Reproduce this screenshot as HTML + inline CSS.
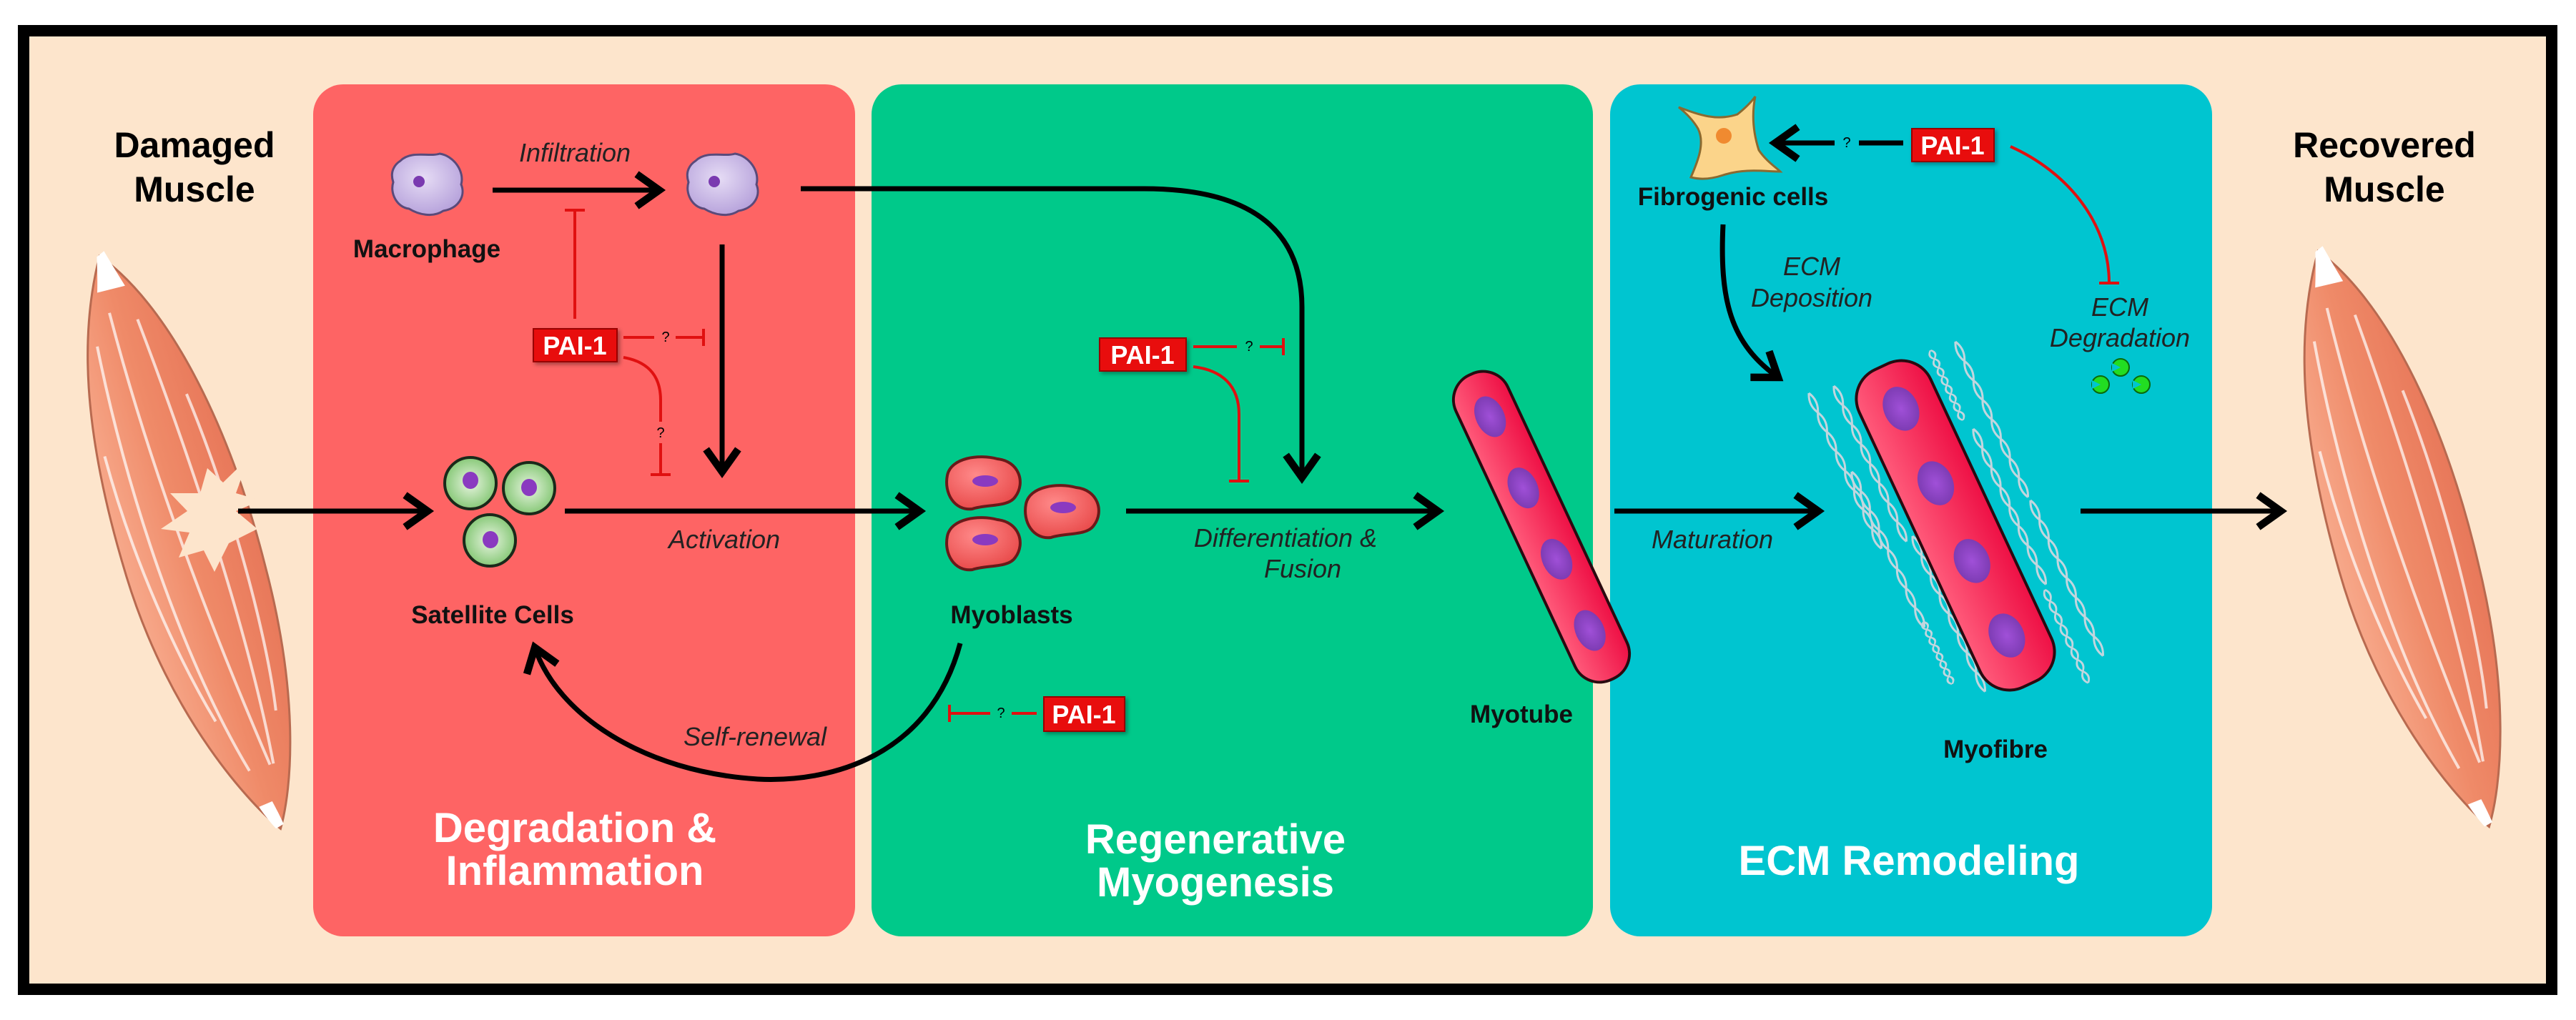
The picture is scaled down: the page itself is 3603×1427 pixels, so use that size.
<!DOCTYPE html>
<html><head><meta charset="utf-8"><style>
html,body{margin:0;padding:0;background:#fff;}
svg{display:block;}
.t{font-family:"Liberation Sans Narrow","Liberation Sans",sans-serif;}
</style></head><body>
<svg width="3603" height="1427" viewBox="0 0 3603 1427" xmlns="http://www.w3.org/2000/svg">
<defs>
<marker id="ah" markerWidth="10" markerHeight="10" refX="7" refY="5" orient="auto" markerUnits="strokeWidth">
<path d="M2.5,1.8 L7,5 L2.5,8.2" fill="none" stroke="#000" stroke-width="1.5" stroke-linejoin="miter"/>
</marker>
<linearGradient id="mus" x1="0" y1="0" x2="1" y2="0">
<stop offset="0" stop-color="#f7a88a"/><stop offset="0.5" stop-color="#ef8a68"/><stop offset="1" stop-color="#e8785a"/>
</linearGradient>
<radialGradient id="mac" cx="0.45" cy="0.4" r="0.6"><stop offset="0" stop-color="#e6dcf5"/><stop offset="1" stop-color="#b8a4dc"/></radialGradient>
<radialGradient id="sat" cx="0.5" cy="0.5" r="0.55"><stop offset="0" stop-color="#e8f5e0"/><stop offset="1" stop-color="#7ec46e"/></radialGradient>
<radialGradient id="myo" cx="0.4" cy="0.35" r="0.7"><stop offset="0" stop-color="#ff8a8a"/><stop offset="1" stop-color="#e84848"/></radialGradient>
<radialGradient id="nuc" cx="0.5" cy="0.5" r="0.55"><stop offset="0" stop-color="#a050d8"/><stop offset="1" stop-color="#7a3ab0"/></radialGradient>
<linearGradient id="tube" x1="0" y1="0" x2="1" y2="0"><stop offset="0" stop-color="#ff5a7a"/><stop offset="1" stop-color="#ee1045"/></linearGradient>
<filter id="sh" x="-20%" y="-20%" width="140%" height="140%"><feDropShadow dx="3" dy="3" stdDeviation="3" flood-opacity="0.35"/></filter>
<g id="muscle">
<path d="M0,-420 C70,-330 105,-150 95,60 C88,250 40,370 8,420 C-20,380 -95,230 -95,20 C-95,-200 -55,-330 0,-420 Z" fill="url(#mus)" stroke="#b86a50" stroke-width="3"/>
<path d="M-40,-300 C-60,-100 -55,150 -10,330 M-10,-340 C-20,-100 0,150 20,330 M25,-320 C40,-100 45,150 25,330 M-75,-150 C-80,0 -60,150 -35,250 M60,-200 C75,-50 70,150 50,260" fill="none" stroke="#fff" stroke-opacity="0.7" stroke-width="4"/>
<path d="M-4,-420 L8,-425 C14,-400 18,-385 22,-370 L-18,-372 C-12,-390 -8,-405 -4,-420Z" fill="#fff"/>
<path d="M2,418 L14,415 C12,400 10,390 8,380 L-12,382 C-8,395 -3,408 2,418Z" fill="#fff"/>
</g>
<g id="col">
<path d="M0,0 q8,15 0,30 q-8,15 0,30 q8,15 0,30 q-8,15 0,30 q8,15 0,30 q-8,15 0,30 q8,15 0,30 q-8,15 0,30 M0,0 q-8,15 0,30 q8,15 0,30 q-8,15 0,30 q8,15 0,30 q-8,15 0,30 q8,15 0,30 q-8,15 0,30 q8,15 0,30" fill="none" stroke="#d8d8e0" stroke-width="3"/>
</g>
</defs>

<rect x="0" y="0" width="3603" height="1427" fill="#fff"/>
<rect x="33" y="43" width="3536" height="1341" fill="#fde5cc" stroke="#000" stroke-width="16"/>

<rect x="438" y="118" width="758" height="1192" rx="42" fill="#fe6464"/>
<rect x="1219" y="118" width="1009" height="1192" rx="42" fill="#00c98a"/>
<rect x="2252" y="118" width="842" height="1192" rx="42" fill="#00c5d0"/>

<g transform="translate(262,760) rotate(-17)"><use href="#muscle"/></g>
<polygon points="348,640 330,690 365,700 330,715 360,740 320,760 300,800 285,770 250,780 265,745 225,740 262,715 238,690 280,690 290,655 312,675" fill="#fde5cc"/>
<g transform="translate(3358,755) rotate(-16)"><use href="#muscle"/></g>

<g class="t" font-weight="bold" font-size="50" text-anchor="middle" fill="#000">
<text x="272" y="220">Damaged</text><text x="272" y="282">Muscle</text>
<text x="3335" y="220">Recovered</text><text x="3335" y="282">Muscle</text>
</g>

<path d="M560,225 C575,210 600,220 615,215 C635,218 650,240 645,258 C652,275 640,292 620,295 C605,305 585,300 572,292 C555,290 545,270 550,255 C545,240 552,230 560,225Z" fill="url(#mac)" stroke="#5a4a7a" stroke-width="3"/>
<circle cx="586" cy="254" r="8" fill="#7a3ab0"/>
<path d="M973,225 C988,210 1013,220 1028,215 C1048,218 1063,240 1058,258 C1065,275 1053,292 1033,295 C1018,305 998,300 985,292 C968,290 958,270 963,255 C958,240 965,230 973,225Z" fill="url(#mac)" stroke="#5a4a7a" stroke-width="3"/>
<circle cx="999" cy="254" r="8" fill="#7a3ab0"/>

<g stroke="#1a2a1a" stroke-width="4">
<ellipse cx="658" cy="676" rx="36" ry="36" fill="url(#sat)"/>
<ellipse cx="740" cy="683" rx="36" ry="36" fill="url(#sat)"/>
<ellipse cx="685" cy="756" rx="36" ry="36" fill="url(#sat)"/>
</g>
<g fill="#8a3ac0"><ellipse cx="658" cy="672" rx="11" ry="12"/><ellipse cx="740" cy="682" rx="11" ry="12"/><ellipse cx="686" cy="755" rx="11" ry="12"/></g>

<g stroke="#6a1a1a" stroke-width="4" fill="url(#myo)">
<path d="M1325,665 C1330,640 1370,635 1395,642 C1425,645 1435,675 1420,695 C1410,710 1380,705 1360,712 C1335,715 1320,690 1325,665Z"/>
<path d="M1435,705 C1440,680 1480,675 1505,682 C1535,685 1545,715 1530,735 C1520,750 1490,745 1470,752 C1445,755 1430,730 1435,705Z"/>
<path d="M1325,750 C1330,725 1370,720 1395,727 C1425,730 1435,760 1420,780 C1410,795 1380,790 1360,797 C1335,800 1320,775 1325,750Z"/>
</g>
<g fill="#8a3ac0"><ellipse cx="1378" cy="673" rx="18" ry="8"/><ellipse cx="1487" cy="710" rx="18" ry="8"/><ellipse cx="1378" cy="755" rx="18" ry="8"/></g>

<g opacity="0.9">
<g transform="translate(2530,550) rotate(-25)"><use href="#col"/></g>
<g transform="translate(2565,540) rotate(-25)"><use href="#col"/></g>
<g transform="translate(2590,660) rotate(-25)"><use href="#col"/></g>
<g transform="translate(2675,750) rotate(-25)"><use href="#col"/></g>
<g transform="translate(2690,870) rotate(-25) scale(1,0.4)"><use href="#col"/></g>
<g transform="translate(2700,490) rotate(-25) scale(1,0.45)"><use href="#col"/></g>
<g transform="translate(2735,478) rotate(-25)"><use href="#col"/></g>
<g transform="translate(2760,600) rotate(-25)"><use href="#col"/></g>
<g transform="translate(2840,700) rotate(-25)"><use href="#col"/></g>
<g transform="translate(2860,825) rotate(-25) scale(1,0.6)"><use href="#col"/></g>
</g>

<g transform="translate(2156,737) rotate(-25)">
<rect x="-40" y="-235" width="80" height="470" rx="38" fill="url(#tube)" stroke="#2a0a10" stroke-width="4"/>
<g fill="url(#nuc)"><ellipse cx="0" cy="-170" rx="20" ry="30"/><ellipse cx="0" cy="-60" rx="20" ry="30"/><ellipse cx="0" cy="50" rx="20" ry="30"/><ellipse cx="0" cy="160" rx="20" ry="30"/></g>
</g>
<g transform="translate(2735,735) rotate(-25)">
<rect x="-55" y="-245" width="110" height="490" rx="45" fill="url(#tube)" stroke="#2a0a10" stroke-width="4"/>
<g fill="url(#nuc)"><ellipse cx="0" cy="-180" rx="24" ry="32"/><ellipse cx="0" cy="-65" rx="24" ry="32"/><ellipse cx="0" cy="55" rx="24" ry="32"/><ellipse cx="0" cy="170" rx="24" ry="32"/></g>
</g>

<path d="M2348,150 C2375,160 2400,170 2430,160 C2440,152 2450,142 2455,135 C2450,160 2452,185 2460,210 C2470,225 2485,235 2490,240 C2470,240 2440,235 2410,245 C2395,250 2380,252 2365,248 C2375,225 2385,200 2375,180 C2368,168 2358,158 2348,150Z" fill="#fbd48a" stroke="#8a6a30" stroke-width="3"/>
<circle cx="2411" cy="190" r="11" fill="#f08a30"/>

<g fill="#22dd22" stroke="#0a6a0a" stroke-width="2">
<circle cx="2966" cy="514" r="12"/><circle cx="2938" cy="538" r="12"/><circle cx="2995" cy="538" r="12"/>
</g>
<g fill="#00c5d0"><path d="M2966,514 l-12,-6 l0,12z"/><path d="M2938,538 l-12,-6 l0,12z"/><path d="M2995,538 l-12,-6 l0,12z"/></g>

<g fill="none" stroke="#000" stroke-width="7" marker-end="url(#ah)">
<line x1="689" y1="266" x2="922" y2="266"/>
<line x1="1010" y1="342" x2="1010" y2="660"/>
<line x1="333" y1="715" x2="598" y2="715"/>
<line x1="790" y1="715" x2="1286" y2="715"/>
<line x1="1575" y1="715" x2="2011" y2="715"/>
<line x1="2258" y1="715" x2="2543" y2="715"/>
<line x1="2910" y1="715" x2="3190" y2="715"/>
<path d="M1120,264 L1600,264 C1760,264 1821,330 1821,430 L1821,668"/>
<path d="M1343,900 C1300,1060 1160,1095 1060,1090 C900,1080 780,1000 748,906"/>
<path d="M2410,314 C2405,420 2420,480 2487,528"/>
<line x1="2566" y1="200" x2="2483" y2="200"/>
</g>
<line x1="2662" y1="200" x2="2600" y2="200" stroke="#000" stroke-width="7"/>

<g fill="none" stroke="#e01010" stroke-width="4">
<line x1="804" y1="294" x2="804" y2="446"/><line x1="790" y1="294" x2="818" y2="294"/>
<line x1="872" y1="472" x2="915" y2="472"/><line x1="945" y1="472" x2="984" y2="472"/><line x1="984" y1="460" x2="984" y2="484"/>
<path d="M872,500 C900,505 924,520 924,560 L924,590"/><line x1="924" y1="620" x2="924" y2="664"/><line x1="910" y1="664" x2="938" y2="664"/>
<line x1="1669" y1="485" x2="1730" y2="485"/><line x1="1762" y1="485" x2="1795" y2="485"/><line x1="1795" y1="473" x2="1795" y2="497"/>
<path d="M1669,513 C1710,518 1733,540 1733,580 L1733,673"/><line x1="1719" y1="673" x2="1747" y2="673"/>
<line x1="1450" y1="998" x2="1415" y2="998"/><line x1="1385" y1="998" x2="1328" y2="998"/><line x1="1328" y1="986" x2="1328" y2="1010"/>
<path d="M2812,205 C2890,240 2950,310 2950,396"/><line x1="2936" y1="396" x2="2964" y2="396"/>
</g>
<g class="t" font-size="20" fill="#000" text-anchor="middle">
<text x="931" y="478">?</text><text x="924" y="612">?</text><text x="1747" y="491">?</text><text x="1400" y="1004">?</text><text x="2583" y="206">?</text>
</g>

<g filter="url(#sh)">
<rect x="746" y="460" width="117" height="46" fill="#e81010" stroke="#900" stroke-width="2"/>
<rect x="1538" y="473" width="121" height="46" fill="#e81010" stroke="#900" stroke-width="2"/>
<rect x="1460" y="975" width="113" height="48" fill="#e81010" stroke="#900" stroke-width="2"/>
<rect x="2674" y="180" width="115" height="46" fill="#e81010" stroke="#900" stroke-width="2"/>
</g>
<g class="t" font-weight="bold" font-size="36" fill="#fff" text-anchor="middle">
<text x="804" y="496">PAI-1</text><text x="1598" y="509">PAI-1</text><text x="1516" y="1012">PAI-1</text><text x="2731" y="216">PAI-1</text>
</g>

<g class="t" font-weight="bold" font-size="35" fill="#111" text-anchor="middle">
<text x="597" y="360">Macrophage</text>
<text x="689" y="872">Satellite Cells</text>
<text x="1415" y="872">Myoblasts</text>
<text x="2128" y="1011">Myotube</text>
<text x="2791" y="1060">Myofibre</text>
<text x="2424" y="287">Fibrogenic cells</text>
</g>
<g class="t" font-style="italic" font-size="36" fill="#222" text-anchor="middle">
<text x="804" y="226">Infiltration</text>
<text x="1013" y="767">Activation</text>
<text x="1056" y="1043">Self-renewal</text>
<text x="1798" y="765">Differentiation &amp;</text>
<text x="1822" y="808">Fusion</text>
<text x="2395" y="767">Maturation</text>
<text x="2534" y="385">ECM</text><text x="2534" y="429">Deposition</text>
<text x="2965" y="442">ECM</text><text x="2965" y="485">Degradation</text>
</g>
<g class="t" font-weight="bold" font-size="58" fill="#fff" text-anchor="middle">
<text x="804" y="1178">Degradation &amp;</text><text x="804" y="1238">Inflammation</text>
<text x="1700" y="1194">Regenerative</text><text x="1700" y="1254">Myogenesis</text>
<text x="2670" y="1224">ECM Remodeling</text>
</g>
</svg>
</body></html>
